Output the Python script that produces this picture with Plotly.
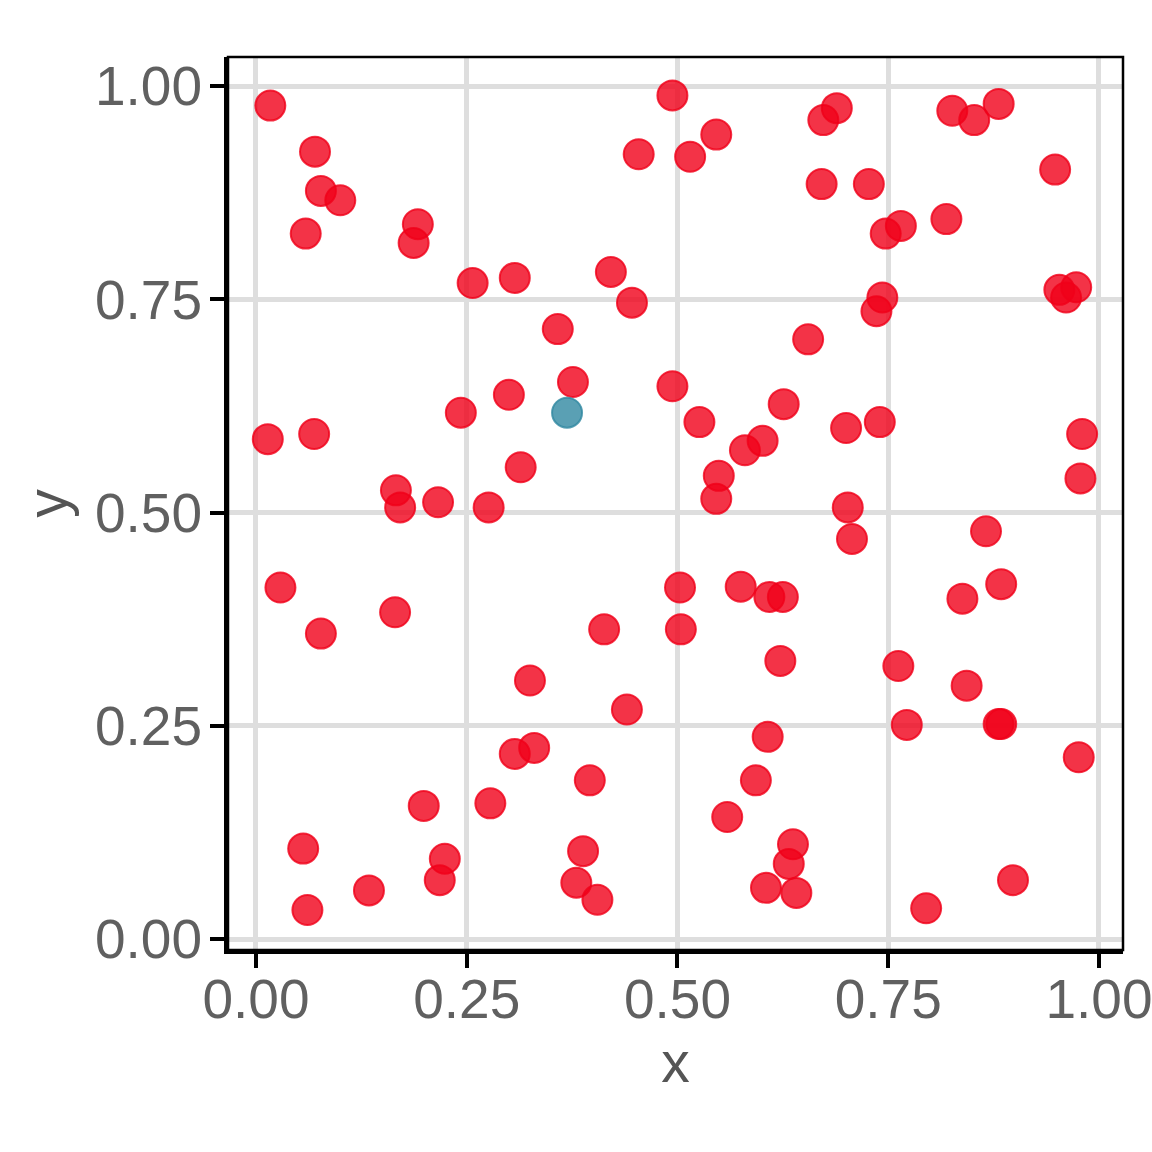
import plotly.graph_objects as go

red_x = [0.017, 0.070, 0.077, 0.100, 0.059, 0.192, 0.187, 0.257, 0.307, 0.358,
         0.421, 0.446, 0.376, 0.300, 0.243, 0.314, 0.216, 0.276, 0.166, 0.171,
         0.014, 0.069, 0.029, 0.077, 0.165, 0.494, 0.454, 0.515, 0.546, 0.673,
         0.689, 0.671, 0.727, 0.747, 0.765, 0.819, 0.826, 0.852, 0.881, 0.948,
         0.953, 0.961, 0.973, 0.980, 0.978, 0.743, 0.736, 0.655, 0.740, 0.700,
         0.494, 0.526, 0.626, 0.580, 0.601, 0.549, 0.546, 0.702, 0.707, 0.866,
         0.884, 0.838, 0.503, 0.575, 0.609, 0.625, 0.413, 0.504, 0.622, 0.762,
         0.843, 0.772, 0.881, 0.884, 0.976, 0.325, 0.440, 0.307, 0.330, 0.396,
         0.607, 0.593, 0.559, 0.199, 0.278, 0.056, 0.061, 0.134, 0.224, 0.218,
         0.388, 0.380, 0.405, 0.637, 0.632, 0.605, 0.641, 0.795, 0.898]
red_y = [0.977, 0.923, 0.877, 0.866, 0.827, 0.838, 0.816, 0.769, 0.775, 0.715,
         0.782, 0.746, 0.653, 0.638, 0.617, 0.553, 0.512, 0.506, 0.526, 0.506,
         0.586, 0.592, 0.412, 0.358, 0.383, 0.989, 0.920, 0.917, 0.943, 0.960,
         0.974, 0.885, 0.885, 0.827, 0.836, 0.844, 0.971, 0.960, 0.979, 0.902,
         0.761, 0.752, 0.764, 0.592, 0.540, 0.752, 0.736, 0.703, 0.606, 0.599,
         0.648, 0.606, 0.627, 0.573, 0.584, 0.543, 0.516, 0.506, 0.469, 0.478,
         0.416, 0.399, 0.412, 0.413, 0.401, 0.401, 0.363, 0.363, 0.326, 0.320,
         0.297, 0.251, 0.252, 0.252, 0.213, 0.303, 0.269, 0.217, 0.224, 0.186,
         0.237, 0.186, 0.143, 0.156, 0.159, 0.106, 0.034, 0.057, 0.094, 0.069,
         0.103, 0.066, 0.046, 0.111, 0.088, 0.060, 0.054, 0.036, 0.069]
blue_x = [0.369]
blue_y = [0.617]

x_ticks = [0.0, 0.25, 0.5, 0.75, 1.0]
tick_text = ["0.00", "0.25", "0.50", "0.75", "1.00"]

RED = "rgba(240,0,25,0.8)"
BLUE = "rgba(49,136,161,0.8)"

fig = go.Figure()
fig.add_trace(go.Scatter(x=red_x, y=red_y, mode="markers",
                         marker=dict(size=30, color=RED, line=dict(color=RED, width=2)),
                         showlegend=False, hoverinfo="skip"))
fig.add_trace(go.Scatter(x=blue_x, y=blue_y, mode="markers",
                         marker=dict(size=30, color=BLUE, line=dict(color=BLUE, width=2)),
                         showlegend=False, hoverinfo="skip"))

font = "Liberation Sans, Arial, sans-serif"
axis_common = dict(
    tickvals=x_ticks, ticktext=tick_text,
    showgrid=True, gridcolor="#DEDEDE", gridwidth=4.5,
    zeroline=False, automargin=False,
    showline=True, linecolor="black", linewidth=4,
    ticks="outside", ticklen=14, tickwidth=4, tickcolor="black",
    tickfont=dict(family=font, size=55, color="#606060"),
    ticklabeloverflow="allow",
)
fig.update_xaxes(range=[-0.0332, 1.0285], ticklabelstandoff=-16,
                 title=dict(text="x", font=dict(family=font, size=57, color="#555555"), standoff=6), **axis_common)
fig.update_yaxes(range=[-0.0129, 1.034], ticklabelstandoff=-3,
                 title=dict(text="y", font=dict(family=font, size=57, color="#555555"), standoff=10), **axis_common)

fig.add_shape(type="rect", xref="x domain", yref="y domain", x0=0, x1=1, y0=0, y1=1,
              line=dict(color="black", width=2.5), fillcolor="rgba(0,0,0,0)", layer="above")

fig.update_layout(
    width=1152, height=1152,
    margin=dict(l=228, r=29, t=57, b=202),
    plot_bgcolor="white", paper_bgcolor="white",
)
fig.write_html("out.html", config={"displayModeBar": False},
               post_script="document.body.style.margin='0';document.body.style.overflow='hidden';")
